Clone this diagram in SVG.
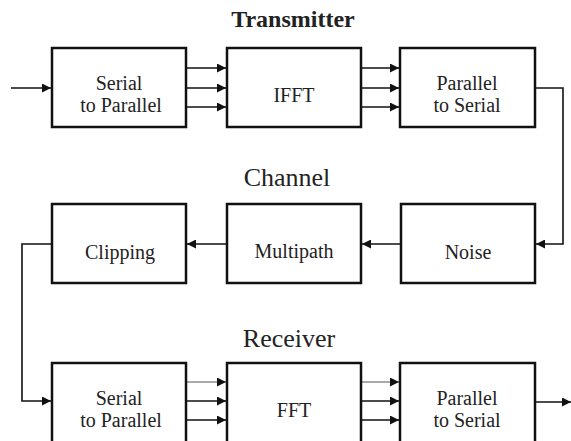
<svg xmlns="http://www.w3.org/2000/svg" width="571" height="441" viewBox="0 0 571 441">
<defs>
<style>
.box{fill:#fff;stroke:#111;stroke-width:2.5}
.lbl{font-family:"Liberation Serif","Times New Roman",serif;font-size:20px;fill:#222;text-anchor:middle}
.ttl{font-family:"Liberation Serif","Times New Roman",serif;font-size:26px;fill:#222;text-anchor:middle}
.ln{fill:none;stroke:#111;stroke-width:1.6}
.thin{fill:none;stroke:#555;stroke-width:1.2}
</style>
<marker id="ah" viewBox="0 0 10 10" refX="10" refY="5" markerWidth="10" markerHeight="9" markerUnits="userSpaceOnUse" orient="auto">
<path d="M0,0 L10,5 L0,10 Z" fill="#111"/>
</marker>
</defs>
<rect width="571" height="441" fill="#fff"/>
<g id="titles">
<text class="ttl" x="293" y="27" style="font-weight:bold;font-size:24px">Transmitter</text>
<text class="ttl" x="287" y="186">Channel</text>
<text class="ttl" x="289" y="347">Receiver</text>
</g>
<g id="connectors">
<line class="ln" x1="11" y1="88" x2="51" y2="88" marker-end="url(#ah)"/>
<line class="ln" x1="186" y1="68" x2="226" y2="68" marker-end="url(#ah)"/>
<line class="ln" x1="186" y1="88" x2="226" y2="88" marker-end="url(#ah)"/>
<line class="ln" x1="186" y1="107" x2="226" y2="107" marker-end="url(#ah)"/>
<line class="ln" x1="361" y1="68" x2="399" y2="68" marker-end="url(#ah)"/>
<line class="ln" x1="361" y1="88" x2="399" y2="88" marker-end="url(#ah)"/>
<line class="ln" x1="361" y1="107" x2="399" y2="107" marker-end="url(#ah)"/>
<polyline class="ln" points="535,88 563,88 563,244 536,244" marker-end="url(#ah)"/>
<line class="ln" x1="401" y1="244" x2="362" y2="244" marker-end="url(#ah)"/>
<line class="ln" x1="227" y1="244" x2="187" y2="244" marker-end="url(#ah)"/>
<polyline class="ln" points="52,244 22,244 22,401 51,401" marker-end="url(#ah)"/>
<line class="thin" x1="186" y1="382" x2="226" y2="382" marker-end="url(#ah)"/>
<line class="ln" x1="186" y1="401" x2="226" y2="401" marker-end="url(#ah)"/>
<line class="ln" x1="186" y1="420" x2="226" y2="420" marker-end="url(#ah)"/>
<line class="thin" x1="361" y1="382" x2="399" y2="382" marker-end="url(#ah)"/>
<line class="ln" x1="361" y1="401" x2="399" y2="401" marker-end="url(#ah)"/>
<line class="ln" x1="361" y1="420" x2="399" y2="420" marker-end="url(#ah)"/>
<line class="ln" x1="535" y1="402" x2="571" y2="402" marker-end="url(#ah)"/>
</g>
<g id="tx-s2p"><rect class="box" x="52" y="48" width="134" height="79"/><text class="lbl" x="119" y="90">Serial</text><text class="lbl" x="121" y="112">to Parallel</text></g>
<g id="tx-ifft"><rect class="box" x="227" y="48" width="134" height="79"/><text class="lbl" x="294" y="102">IFFT</text></g>
<g id="tx-p2s"><rect class="box" x="400" y="48" width="135" height="79"/><text class="lbl" x="467" y="90">Parallel</text><text class="lbl" x="467" y="112">to Serial</text></g>
<g id="ch-clipping"><rect class="box" x="52" y="204" width="134" height="79"/><text class="lbl" x="120" y="259">Clipping</text></g>
<g id="ch-multipath"><rect class="box" x="227" y="204" width="134" height="79"/><text class="lbl" x="294" y="258">Multipath</text></g>
<g id="ch-noise"><rect class="box" x="401" y="204" width="134" height="79"/><text class="lbl" x="468" y="259">Noise</text></g>
<g id="rx-s2p"><rect class="box" x="52" y="363" width="134" height="80"/><text class="lbl" x="119" y="405">Serial</text><text class="lbl" x="121" y="427">to Parallel</text></g>
<g id="rx-fft"><rect class="box" x="227" y="363" width="134" height="80"/><text class="lbl" x="294" y="417">FFT</text></g>
<g id="rx-p2s"><rect class="box" x="400" y="363" width="135" height="80"/><text class="lbl" x="467" y="405">Parallel</text><text class="lbl" x="467" y="427">to Serial</text></g>
</svg>
